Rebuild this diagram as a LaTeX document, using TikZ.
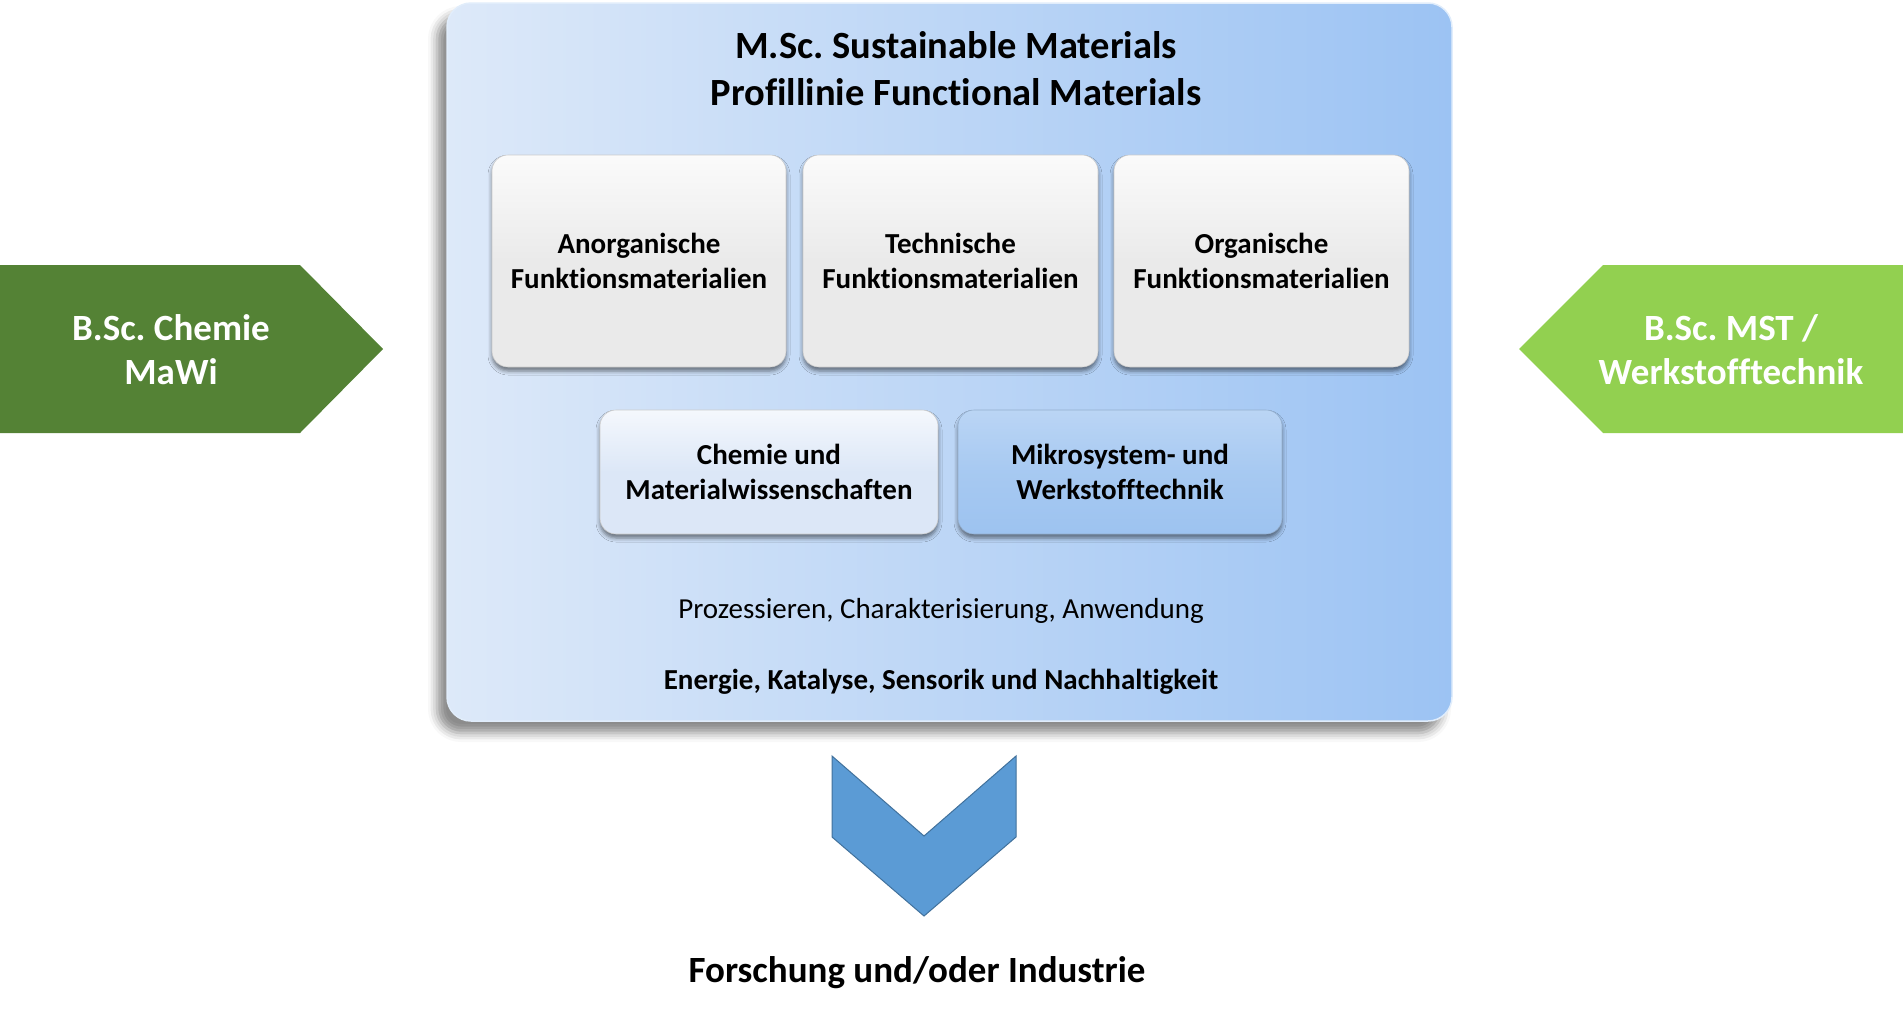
\documentclass[tikz,border=0pt]{standalone}
\usepackage{fontspec}
\setmainfont{Carlito}[Ligatures=NoCommon]
\usetikzlibrary{shadows.blur}
\frenchspacing
\definecolor{dkgreen}{HTML}{548235}
\definecolor{ltgreen}{HTML}{92D050}
\definecolor{mainL}{HTML}{DDE9F9}
\definecolor{mainR}{HTML}{9CC3F3}
\definecolor{chevfill}{HTML}{5B9BD5}
\definecolor{chevline}{HTML}{41719C}
\definecolor{boxgray}{HTML}{EAEAEA}
\definecolor{boxlight}{HTML}{DCE7F7}
\definecolor{boxblue}{HTML}{9DC3F0}
\tikzset{
  bigfont/.style={font=\fontsize{37}{44}\selectfont\bfseries},
  boxfont/.style={font=\fontsize{29}{35}\selectfont\bfseries},
  mainbox/.style={rounded corners=24pt, left color=mainL, right color=mainR, draw=white!70!mainR, line width=1.5pt,
     blur shadow={shadow xshift=-10pt, shadow yshift=-12pt, shadow blur radius=9pt, shadow opacity=45}},
  graybox/.style={rounded corners=16pt, top color=white!80!boxgray, bottom color=boxgray, middle color=boxgray, draw=white!60!gray, line width=0.6pt,
     blur shadow={shadow xshift=0pt, shadow yshift=-4pt, shadow blur radius=4pt, shadow opacity=50}, boxfont, align=center},
  lightbox/.style={graybox, top color=white!70!boxlight, bottom color=boxlight, middle color=boxlight},
  bluebox/.style={graybox, top color=white!30!boxblue, bottom color=boxblue, middle color=boxblue!90!white, draw=boxblue!70!gray},
}
\begin{document}
\begin{tikzpicture}[x=1pt,y=-1pt]
\useasboundingbox (0,0) rectangle (1903,1018);
% main frame
\node[mainbox, minimum width=1005pt, minimum height=718pt, inner sep=0pt] (main) at (949.5,362) {};
\node[font=\fontsize{38.5}{47}\selectfont\bfseries, align=center] (title) at (956,68.5)
  {M.Sc. Sustainable Materials\\Profillinie Functional Materials};
% inner boxes
\node[graybox, minimum width=294pt, minimum height=212pt] (b1) at (639,261) {Anorganische\\Funktionsmaterialien};
\node[graybox, minimum width=295pt, minimum height=212pt] (b2) at (950.5,261) {Technische\\Funktionsmaterialien};
\node[graybox, minimum width=295pt, minimum height=212pt] (b3) at (1261.5,261) {Organische\\Funktionsmaterialien};
\node[lightbox, minimum width=338pt, minimum height=124pt] (b4) at (769,472) {Chemie und\\Materialwissenschaften};
\node[bluebox, minimum width=324pt, minimum height=124pt] (b5) at (1120,472) {Mikrosystem- und\\Werkstofftechnik};
\node[font=\fontsize{29}{35}\selectfont] (proc) at (941,611) {Prozessieren, Charakterisierung, Anwendung};
\node[font=\fontsize{29}{35}\selectfont\bfseries] (appl) at (941,682) {Energie, Katalyse, Sensorik und Nachhaltigkeit};
% side arrows
\fill[dkgreen] (0,265) -- (300,265) -- (383,349) -- (300,433) -- (0,433) -- cycle;
\node[bigfont, text=white, align=center] (left) at (171,350) {B.Sc. Chemie\\MaWi};
\fill[ltgreen] (1903,265) -- (1603,265) -- (1519,349) -- (1603,433) -- (1903,433) -- cycle;
\node[bigfont, text=white, align=center] (right) at (1731,350) {B.Sc. MST /\\Werkstofftechnik};
% down chevron
\draw[fill=chevfill, draw=chevline, line width=1pt, line join=miter]
  (832,756) -- (924,836) -- (1016,756) -- (1016,837) -- (924,916) -- (832,837) -- cycle;
\node[font=\fontsize{37}{44}\selectfont\bfseries] (out) at (917,973) {Forschung und/oder Industrie};
\end{tikzpicture}
\end{document}
